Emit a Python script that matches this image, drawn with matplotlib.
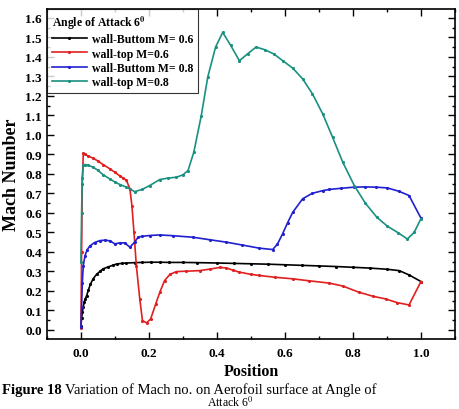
import matplotlib
matplotlib.use("Agg")
import matplotlib.pyplot as plt
from matplotlib.ticker import MultipleLocator

plt.rcParams["font.family"] = ["Liberation Serif", "DejaVu Serif"]
plt.rcParams["mathtext.fontset"] = "stix"

# wall-Buttom M=0.6
bot06_x = [0.0, 0.002, 0.004, 0.007, 0.01, 0.013, 0.017, 0.022, 0.028, 0.036, 0.046, 0.056,
           0.065, 0.08, 0.095, 0.105, 0.12, 0.134, 0.16, 0.18, 0.205, 0.232, 0.26, 0.3,
           0.34, 0.4, 0.45, 0.5, 0.55, 0.6, 0.65, 0.7, 0.75, 0.8, 0.85, 0.9, 0.936, 0.965, 1.0]
bot06_y = [0.02, 0.06, 0.09, 0.12, 0.145, 0.16, 0.176, 0.205, 0.235, 0.262, 0.285, 0.3,
           0.313, 0.323, 0.332, 0.338, 0.341, 0.343, 0.345, 0.346, 0.347, 0.347, 0.346, 0.346,
           0.345, 0.343, 0.341, 0.339, 0.337, 0.334, 0.331, 0.328, 0.325, 0.321, 0.317, 0.311, 0.304, 0.282, 0.248]

# wall-top M=0.6
top06_x = [0.0, 0.002, 0.004, 0.007, 0.012, 0.02, 0.036, 0.05, 0.065, 0.085, 0.1, 0.114,
           0.125, 0.134, 0.144, 0.15, 0.156, 0.163, 0.173, 0.181, 0.193, 0.205, 0.22, 0.232,
           0.246, 0.262, 0.281, 0.31, 0.349, 0.38, 0.408, 0.427, 0.446, 0.466, 0.5, 0.525,
           0.57, 0.623, 0.67, 0.73, 0.77, 0.818, 0.86, 0.896, 0.93, 0.965, 1.0]
top06_y = [0.01, 0.4, 0.75, 0.906, 0.9, 0.893, 0.88, 0.866, 0.848, 0.826, 0.808, 0.79,
           0.777, 0.766, 0.723, 0.637, 0.5, 0.33, 0.16, 0.048, 0.036, 0.056, 0.133, 0.193,
           0.253, 0.285, 0.299, 0.301, 0.304, 0.312, 0.32, 0.318, 0.307, 0.296, 0.285, 0.279,
           0.27, 0.262, 0.252, 0.24, 0.225, 0.193, 0.172, 0.159, 0.14, 0.128, 0.248]

# wall-Buttom M=0.8
bot08_x = [0.0, 0.002, 0.004, 0.007, 0.012, 0.018, 0.026, 0.04, 0.056, 0.07, 0.085, 0.1,
           0.114, 0.129, 0.144, 0.158, 0.168, 0.18, 0.202, 0.232, 0.27, 0.33, 0.38, 0.427,
           0.475, 0.525, 0.564, 0.578, 0.593, 0.608, 0.623, 0.652, 0.68, 0.711, 0.73, 0.765,
           0.804, 0.835, 0.867, 0.901, 0.935, 0.965, 1.0]
bot08_y = [0.015, 0.12, 0.24, 0.33, 0.38, 0.41, 0.43, 0.448, 0.458, 0.46, 0.457, 0.441,
           0.446, 0.446, 0.424, 0.45, 0.475, 0.48, 0.484, 0.487, 0.483, 0.475, 0.462, 0.45,
           0.435, 0.419, 0.412, 0.44, 0.492, 0.55, 0.603, 0.672, 0.7, 0.714, 0.72, 0.726,
           0.732, 0.733, 0.732, 0.728, 0.711, 0.689, 0.573]

# wall-top M=0.8
top08_x = [0.0, 0.002, 0.004, 0.007, 0.012, 0.02, 0.036, 0.05, 0.065, 0.085, 0.1, 0.115,
           0.134, 0.158, 0.18, 0.202, 0.232, 0.255, 0.281, 0.3, 0.315, 0.332, 0.354, 0.373,
           0.396, 0.417, 0.44, 0.466, 0.49, 0.515, 0.54, 0.567, 0.593, 0.623, 0.652, 0.681,
           0.711, 0.74, 0.77, 0.804, 0.836, 0.87, 0.901, 0.934, 0.96, 0.98, 1.0]
top08_y = [0.347, 0.6, 0.78, 0.843, 0.848, 0.845, 0.834, 0.818, 0.796, 0.774, 0.758, 0.745,
           0.732, 0.709, 0.72, 0.74, 0.771, 0.778, 0.783, 0.795, 0.817, 0.911, 1.099, 1.296,
           1.45, 1.525, 1.46, 1.38, 1.415, 1.45, 1.437, 1.415, 1.381, 1.342, 1.287, 1.21,
           1.108, 0.988, 0.86, 0.74, 0.651, 0.578, 0.532, 0.497, 0.466, 0.5, 0.57]

series = [
    (bot06_x, bot06_y, "black", "wall-Buttom M= 0.6"),
    (top06_x, top06_y, "#e02020", "wall-top M=0.6"),
    (bot08_x, bot08_y, "#2020d0", "wall-Buttom M= 0.8"),
    (top08_x, top08_y, "#1a9080", "wall-top M=0.8"),
]

fig = plt.figure(figsize=(4.6, 4.1), dpi=100)
ax = fig.add_axes([0.102, 0.171, 0.887, 0.805])

for xs, ys, c, lab in series:
    ax.plot(xs, ys, color=c, lw=1.2, marker=".", ms=2.5, label=lab)

ax.set_xlim(-0.1, 1.1)
ax.set_ylim(-0.046, 1.646)
ax.xaxis.set_major_locator(MultipleLocator(0.2))
ax.xaxis.set_minor_locator(MultipleLocator(0.1))
ax.yaxis.set_major_locator(MultipleLocator(0.1))
ax.yaxis.set_minor_locator(MultipleLocator(0.05))
ax.tick_params(which="both", direction="in", top=True, right=True, width=1)
ax.tick_params(which="major", length=5, labelsize=9.5)
ax.tick_params(which="minor", length=2.5)
for lbl in ax.get_xticklabels() + ax.get_yticklabels():
    lbl.set_fontweight("bold")
ax.xaxis.set_tick_params(pad=6)
for s in ax.spines.values():
    s.set_linewidth(1.2)

ax.set_xlabel("Position", fontsize=11.5, fontweight="bold", labelpad=3)
ax.set_ylabel("Mach Number", fontsize=13, fontweight="bold", labelpad=4)

leg = ax.legend(loc="upper left", title=r"Angle of Attack 6$^{\mathbf{0}}$",
                prop={"weight": "bold", "size": 8.5}, frameon=True, fancybox=False,
                edgecolor="black", borderaxespad=0, handlelength=3.0,
                labelspacing=0.2, handletextpad=0.4, borderpad=0.4)
leg.get_title().set_fontweight("bold")
leg.get_title().set_fontsize(8.5)
leg._legend_box.align = "left"
leg.get_frame().set_linewidth(0.8)

cap_y = 0.039
t1 = fig.text(0.005, cap_y, "Figure 18", fontsize=10.5, fontweight="bold", va="baseline")
fig.canvas.draw()
bb = t1.get_window_extent()
fig.text((bb.x1 + 3) / fig.bbox.width, cap_y,
         "Variation of Mach no. on Aerofoil surface at Angle of",
         fontsize=10.5, va="baseline")
fig.text(0.5, 0.0, r"Attack 6$^{0}$", fontsize=8.5, va="bottom", ha="center")

fig.savefig("out.png", dpi=100)
